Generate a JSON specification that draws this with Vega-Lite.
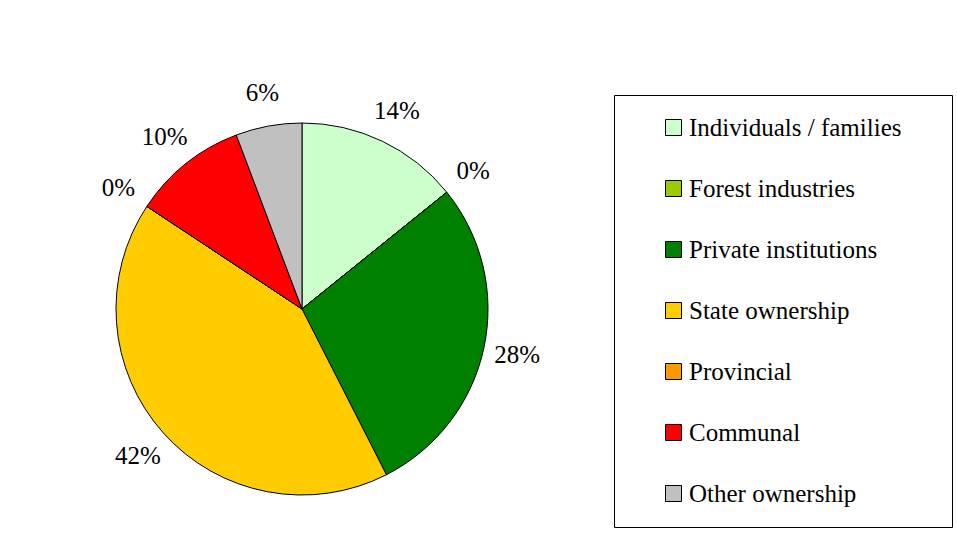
{
  "$schema": "https://vega.github.io/schema/vega-lite/v6.json",
  "autosize": {"type": "none"},
  "width": 372,
  "height": 372,
  "padding": {"left": 116, "top": 123, "right": 469, "bottom": 65},
  "background": "white",
  "config": {"view": {"stroke": null}},
  "data": {
    "values": [
      {"idx": 1, "owner": "Individuals / families", "share": 14.2, "label": "14%"},
      {"idx": 2, "owner": "Forest industries", "share": 0, "label": "0%"},
      {"idx": 3, "owner": "Private institutions", "share": 28.3, "label": "28%"},
      {"idx": 4, "owner": "State ownership", "share": 41.8, "label": "42%"},
      {"idx": 5, "owner": "Provincial", "share": 0, "label": "0%"},
      {"idx": 6, "owner": "Communal", "share": 9.95, "label": "10%"},
      {"idx": 7, "owner": "Other ownership", "share": 5.75, "label": "6%"}
    ]
  },
  "encoding": {
    "theta": {"field": "share", "type": "quantitative", "stack": true},
    "order": {"field": "idx", "type": "quantitative"}
  },
  "layer": [
    {
      "mark": {"type": "arc", "outerRadius": 186, "stroke": "black", "strokeWidth": 1},
      "encoding": {
        "color": {
          "field": "owner",
          "type": "nominal",
          "sort": ["Individuals / families", "Forest industries", "Private institutions", "State ownership", "Provincial", "Communal", "Other ownership"],
          "scale": {
            "domain": ["Individuals / families", "Forest industries", "Private institutions", "State ownership", "Provincial", "Communal", "Other ownership"],
            "range": ["#CCFFCC", "#99CC00", "#008000", "#FFCC00", "#FF9900", "#FF0000", "#C0C0C0"]
          },
          "legend": {
            "orient": "none",
            "legendX": 498,
            "legendY": -28,
            "title": " ",
            "titleOrient": "right",
            "titleFontSize": 1,
            "titlePadding": 31,
            "strokeColor": "black",
            "padding": 20,
            "symbolOffset": 27,
            "symbolType": "square",
            "symbolSize": 256,
            "symbolStrokeColor": "black",
            "symbolStrokeWidth": 1,
            "symbolOpacity": 1,
            "labelFont": "'Liberation Serif', 'Times New Roman', serif",
            "labelFontSize": 25,
            "labelColor": "black",
            "labelOffset": 3,
            "labelLimit": 400,
            "rowPadding": 35
          }
        }
      }
    },
    {
      "mark": {"type": "text", "radius": 220, "font": "'Liberation Serif', 'Times New Roman', serif", "fontSize": 25, "fill": "black"},
      "encoding": {"text": {"field": "label"}}
    }
  ]
}
